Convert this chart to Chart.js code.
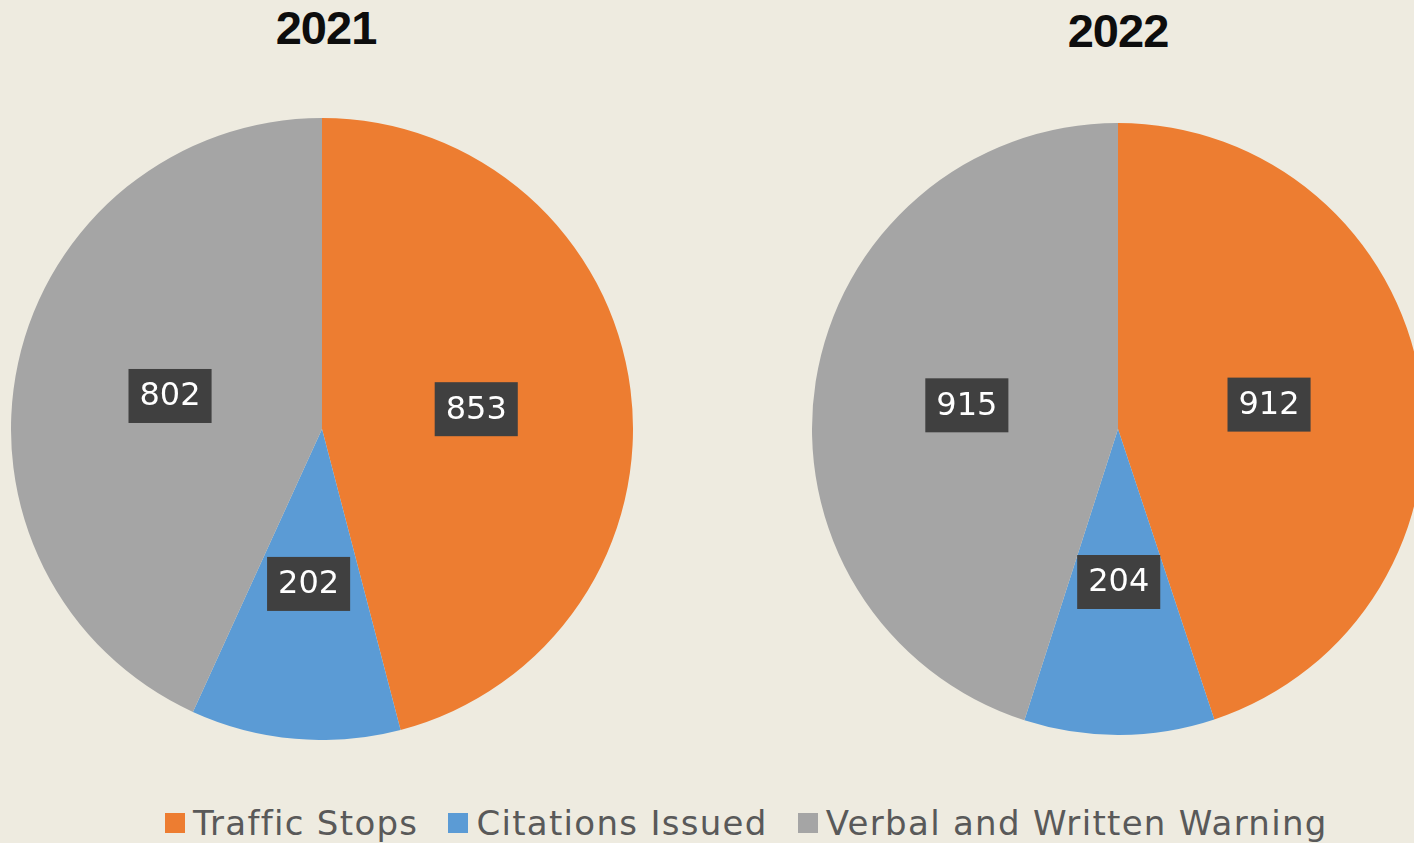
<!DOCTYPE html>
<html>
<head>
<meta charset="utf-8">
<script src="https://cdn.jsdelivr.net/npm/chart.js@4.4.1/dist/chart.umd.min.js"></script>
<style>
    html, body { margin: 0; padding: 0; }
    body {
        width: 1414px;
        height: 843px;
        overflow: hidden;
        position: relative;
        background: #eeebe0;
        font-family: "DejaVu Sans", sans-serif;
    }
    .title {
        position: absolute;
        font-family: "Liberation Sans", Arial, sans-serif;
        font-weight: bold;
        font-size: 47px;
        letter-spacing: -1px;
        color: #0d0d0d;
        width: 300px;
        text-align: center;
        line-height: 1;
    }
    canvas { position: absolute; }
    #legend {
        position: absolute;
        left: 165px;
        top: 803px;
        display: flex;
        align-items: center;
        white-space: nowrap;
        font-size: 34px;
        letter-spacing: 1.3px;
        color: #595959;
    }
    #legend .item { display: flex; align-items: center; margin-right: 30px; }
    #legend .box { width: 20px; height: 20px; margin-right: 8px; }
</style>
</head>
<body>
<div class="title" id="title1" style="left:176px; top:4px;"></div>
<div class="title" id="title2" style="left:968px; top:7px;"></div>
<canvas id="pie1" width="622" height="622" style="left:11px; top:118px;"></canvas>
<canvas id="pie2" width="612" height="612" style="left:812px; top:123px;"></canvas>
<div id="legend"></div>

<script>
const categories = ['Traffic Stops', 'Citations Issued', 'Verbal and Written Warning'];
const years = ['2021', '2022'];
const values2021 = [853, 202, 802];
const values2022 = [912, 204, 915];

const COLORS = ['#ed7d31', '#5b9bd5', '#a5a5a5'];
const LABEL_BOX = '#404040';

// draws the value boxes in the middle of each slice
const valueLabels = {
    id: 'valueLabels',
    afterDatasetsDraw(chart) {
        const ctx = chart.ctx;
        const meta = chart.getDatasetMeta(0);
        const data = chart.data.datasets[0].data;
        ctx.save();
        ctx.font = '32px "DejaVu Sans", sans-serif';
        ctx.textAlign = 'center';
        ctx.textBaseline = 'middle';
        meta.data.forEach((arc, i) => {
            const { x, y } = arc.getCenterPoint();
            const text = String(data[i]);
            const w = ctx.measureText(text).width + 22;
            const h = 54;
            ctx.fillStyle = LABEL_BOX;
            ctx.fillRect(x - w / 2, y - h / 2, w, h);
            ctx.fillStyle = '#ffffff';
            ctx.fillText(text, x, y + 1);
        });
        ctx.restore();
    }
};

function makePie(canvasId, values) {
    const ctx = document.getElementById(canvasId).getContext('2d');
    return new Chart(ctx, {
        type: 'pie',
        data: {
            labels: categories,
            datasets: [{
                data: values,
                backgroundColor: COLORS,
                borderWidth: 0,
                hoverOffset: 0
            }]
        },
        options: {
            responsive: false,
            animation: false,
            events: [],
            layout: { padding: 0 },
            plugins: {
                legend: { display: false },
                tooltip: { enabled: false }
            }
        },
        plugins: [valueLabels]
    });
}

document.getElementById('title1').textContent = years[0];
document.getElementById('title2').textContent = years[1];

makePie('pie1', values2021);
makePie('pie2', values2022);

// shared legend under both pies
const legend = document.getElementById('legend');
categories.forEach((name, i) => {
    const item = document.createElement('div');
    item.className = 'item';
    const box = document.createElement('span');
    box.className = 'box';
    box.style.background = COLORS[i];
    const label = document.createElement('span');
    label.textContent = name;
    item.appendChild(box);
    item.appendChild(label);
    legend.appendChild(item);
});
</script>
</body>
</html>
